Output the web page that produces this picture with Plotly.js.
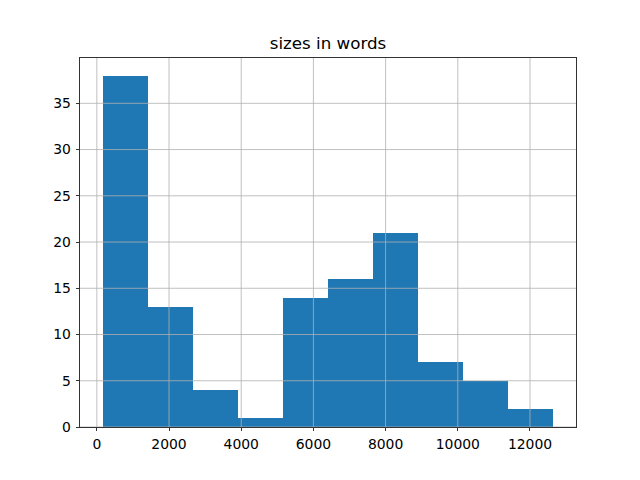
<!DOCTYPE html>
<html>
<head>
<script src="https://cdn.plot.ly/plotly-3.0.1.min.js"></script>
<style>body{margin:0;padding:0;background:#fff}</style>
</head>
<body>
<div id="chart" style="width:640px;height:480px"></div>
<script>
// Histogram of document sizes in words (10 bins)
const dataMin = 158;
const dataMax = 12650;
const counts = [38, 13, 4, 1, 14, 16, 21, 7, 5, 2];
const xTicks = [0, 2000, 4000, 6000, 8000, 10000, 12000];
const yTicks = [0, 5, 10, 15, 20, 25, 30, 35];

const nBins = counts.length;
const binW = (dataMax - dataMin) / nBins;
const centers = counts.map((c, i) => dataMin + binW * (i + 0.5));
const widths = counts.map(() => binW);

const xPad = (dataMax - dataMin) * 0.05;
const xRange = [dataMin - xPad, dataMax + xPad];
const yRange = [0, Math.max(...counts) * 1.05];

const gridShapes = [];
xTicks.forEach(v => gridShapes.push({type:'line', xref:'x', yref:'paper', x0:v, x1:v, y0:0, y1:1, line:{color:'#b0b0b0', width:0.8}, layer:'above'}));
yTicks.forEach(v => gridShapes.push({type:'line', xref:'paper', yref:'y', x0:0, x1:1, y0:v, y1:v, line:{color:'#b0b0b0', width:0.8}, layer:'above'}));

const font = {family:'DejaVu Sans, sans-serif', size:13.9, color:'#000'};
Plotly.newPlot('chart', [{
  type:'bar', x:centers, y:counts, width:widths,
  marker:{color:'#1f77b4', line:{width:0}},
  hoverinfo:'none'
}], {
  width:640, height:480,
  margin:{l:80, r:64, t:58, b:53, pad:0},
  paper_bgcolor:'#fff', plot_bgcolor:'#fff',
  font: font,
  title:{text:'sizes in words', font:{family:'DejaVu Sans, sans-serif', size:16.7, color:'#000'}, xref:'paper', x:0.5, xanchor:'center', y:1-43/480, yanchor:'middle'},
  shapes: gridShapes,
  xaxis:{range:xRange, tickvals:xTicks, ticktext:xTicks.map(String), ticks:'outside', ticklen:3.5, tickwidth:0.8, tickcolor:'#000',
         showgrid:false, zeroline:false, showline:true, linecolor:'#000', linewidth:0.8, mirror:true, layer:'above traces', tickfont:font, ticklabelstandoff:1},
  yaxis:{range:yRange, tickvals:yTicks, ticktext:yTicks.map(String), ticks:'outside', ticklen:3.5, tickwidth:0.8, tickcolor:'#000',
         showgrid:false, zeroline:false, showline:true, linecolor:'#000', linewidth:0.8, mirror:true, layer:'above traces', tickfont:font, ticklabelstandoff:2},
  showlegend:false, bargap:0
}, {staticPlot:true});
</script>
</body>
</html>
